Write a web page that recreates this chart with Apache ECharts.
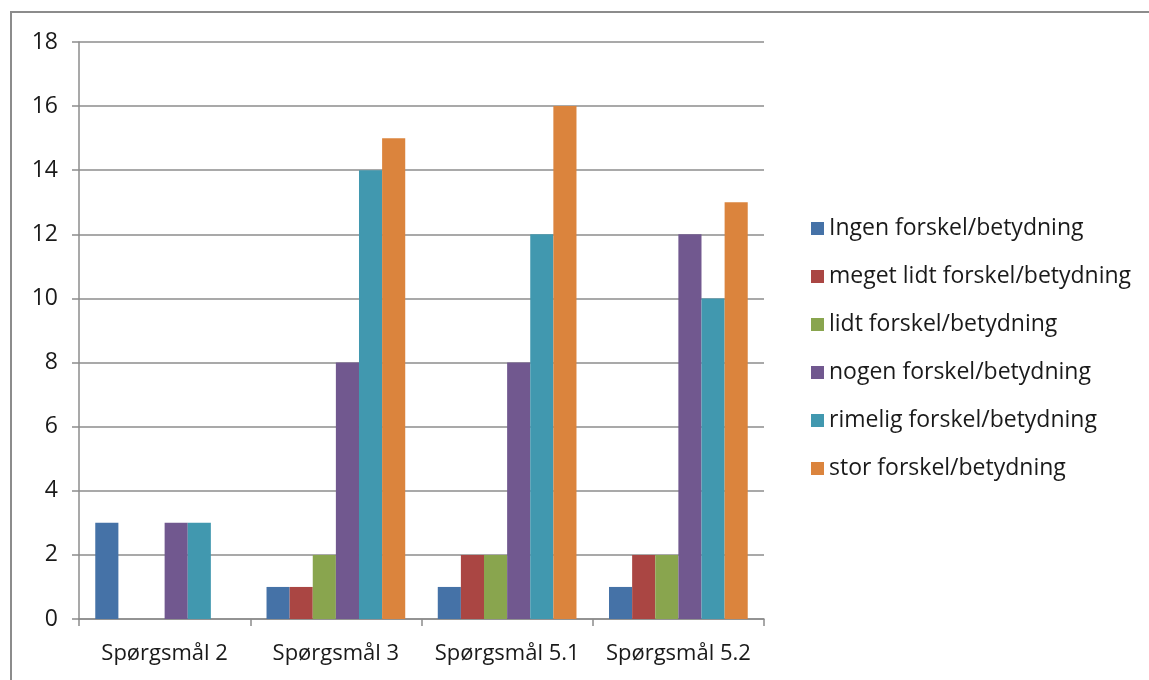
<!DOCTYPE html>
<html><head><meta charset="utf-8">
<script src="https://cdn.jsdelivr.net/npm/echarts@6/dist/echarts.min.js"></script>
<style>html,body{margin:0;padding:0;background:#fff}#c{width:1149px;height:680px}</style>
</head><body><div id="c"></div>
<script>
const categories = ['Spørgsmål 2', 'Spørgsmål 3', 'Spørgsmål 5.1', 'Spørgsmål 5.2'];
const seriesNames = ['Ingen forskel/betydning', 'meget lidt forskel/betydning', 'lidt forskel/betydning', 'nogen forskel/betydning', 'rimelig forskel/betydning', 'stor forskel/betydning'];
const ingen = [3, 1, 1, 1];
const megetLidt = [0, 1, 2, 2];
const lidt = [0, 2, 2, 2];
const nogen = [3, 8, 8, 12];
const rimelig = [3, 14, 12, 10];
const stor = [0, 15, 16, 13];
const values = [ingen, megetLidt, lidt, nogen, rimelig, stor];
const colors = ['#4572A7', '#AA4643', '#89A54E', '#71588F', '#4198AF', '#DB843D'];

const font = '"Open Sans", "Noto Sans", sans-serif';
const chart = echarts.init(document.getElementById('c'));
chart.setOption({
  animation: false,
  color: colors,
  textStyle: { fontFamily: font },
  graphic: [{
    type: 'polyline', silent: true,
    shape: { points: [[11, 690], [11, 12], [1160, 12]] },
    style: { stroke: '#8c8c8c', lineWidth: 2, fill: null }
  }],
  grid: { left: 79, right: 385, top: 42, bottom: 61, containLabel: false },
  legend: {
    orient: 'vertical', left: 806, top: 212,
    itemWidth: 13, itemHeight: 13, itemGap: 25,
    icon: 'rect',
    textStyle: { fontSize: 23, color: '#1a1a1a', fontFamily: font },
    data: seriesNames
  },
  xAxis: {
    type: 'category', data: categories,
    axisLine: { lineStyle: { color: '#8c8c8c', width: 1.5 } },
    axisTick: { show: true, length: 7, lineStyle: { color: '#8c8c8c', width: 1.5 } },
    axisLabel: { fontSize: 22, color: '#1a1a1a', margin: 24, interval: 0, fontFamily: font }
  },
  yAxis: {
    type: 'value', min: 0, max: 18, interval: 2,
    axisLine: { show: true, lineStyle: { color: '#8c8c8c', width: 1.5 } },
    axisTick: { show: true, length: 7, lineStyle: { color: '#8c8c8c', width: 1.5 } },
    axisLabel: { fontSize: 23, color: '#1a1a1a', margin: 21, fontFamily: font },
    splitLine: { lineStyle: { color: '#8c8c8c', width: 1.5 } }
  },
  series: seriesNames.map((n, i) => ({
    name: n, type: 'bar', data: values[i],
    barGap: '0%', barCategoryGap: '19%',
    itemStyle: { color: colors[i] }
  }))
});
</script></body></html>
